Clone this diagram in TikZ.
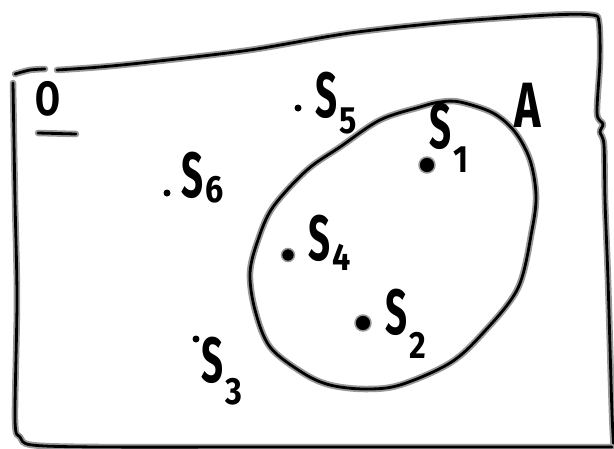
\documentclass[tikz,border=0pt]{standalone}
\usepackage{fontspec}
\setmainfont{Fira Sans}
\tikzset{
  pen/.style={line width=2.8pt, line cap=round, line join=round, draw=black,
    preaction={draw=black!40, line width=6.5pt, line cap=round, line join=round}},
  bigdot/.style={circle, fill=black, draw=black!40, line width=1.5pt, inner sep=0pt, minimum size=16pt},
  smalldot/.style={circle, fill=black, inner sep=0pt, minimum size=7pt},
  lbl/.style={inner sep=0pt, anchor=base west, font=\fontsize{64}{64}\selectfont\bfseries},
}
\newcommand\sdrop[2]{\scalebox{0.6}[1]{S}\kern2pt\raisebox{-#2pt}{\fontsize{38}{38}\selectfont\scalebox{0.85}[1]{#1}}}
\begin{document}
\begin{tikzpicture}[x=1pt,y=-1pt]
\useasboundingbox (0,0) rectangle (614,448);
\fill[white] (0,0) rectangle (614,448);
% universe box
\draw[pen] plot[smooth, tension=0.5] coordinates {(15,74) (30,70) (45,69)};
\draw[pen] plot[smooth, tension=0.5] coordinates {(57,70) (100,67) (150,62) (250,50) (350,33) (450,22) (550,15) (592,15) (599,22) (600,60) (597,113) (603,124) (600,132) (604,145) (605,200) (608,280) (612,413) (614,450)};
\draw[pen] plot[smooth, tension=0.5] coordinates {(13,83) (15,200) (17,300) (15,420) (20,437) (32,445) (100,447) (300,447) (612,447)};
% set A
\draw[pen] plot[smooth cycle, tension=0.55] coordinates {(460,102) (493,113) (515,132) (530,160) (536,195) (532,230) (518,288) (483,333) (450,363) (400,385) (365,389) (330,385) (303,373) (270,347) (255,310) (250,273) (258,240) (273,207) (307,170) (340,147) (380,120) (420,107) (440,102)};
% labels O and A
\node[lbl, font=\fontsize{48}{48}\selectfont\bfseries] (O) at (35,115) {\scalebox{0.75}[1]{O}};
\draw[pen] (38,133) -- (76,134);
\node[lbl] (A) at (514,127) {\scalebox{0.7}[1]{A}};
% points
\node[bigdot] (p1) at (427,165) {};
\node[bigdot, minimum size=13pt] (p4) at (288,255) {};
\node[bigdot] (p2) at (363,323) {};
\node[smalldot] (p5) at (298,108) {};
\node[smalldot] (p6) at (167,193) {};
\node[smalldot] (p3) at (196,339) {};
\node[lbl] (s1) at (429,148) {\sdrop{1}{24}};
\node[lbl] (s5) at (315,117) {\sdrop{5}{16}};
\node[lbl] (s6) at (181,197) {\sdrop{6}{5}};
\node[lbl] (s4) at (308,260) {\sdrop{4}{10}};
\node[lbl] (s2) at (385,334) {\sdrop{2}{24}};
\node[lbl] (s3) at (201,382) {\sdrop{3}{22}};
\end{tikzpicture}
\end{document}
